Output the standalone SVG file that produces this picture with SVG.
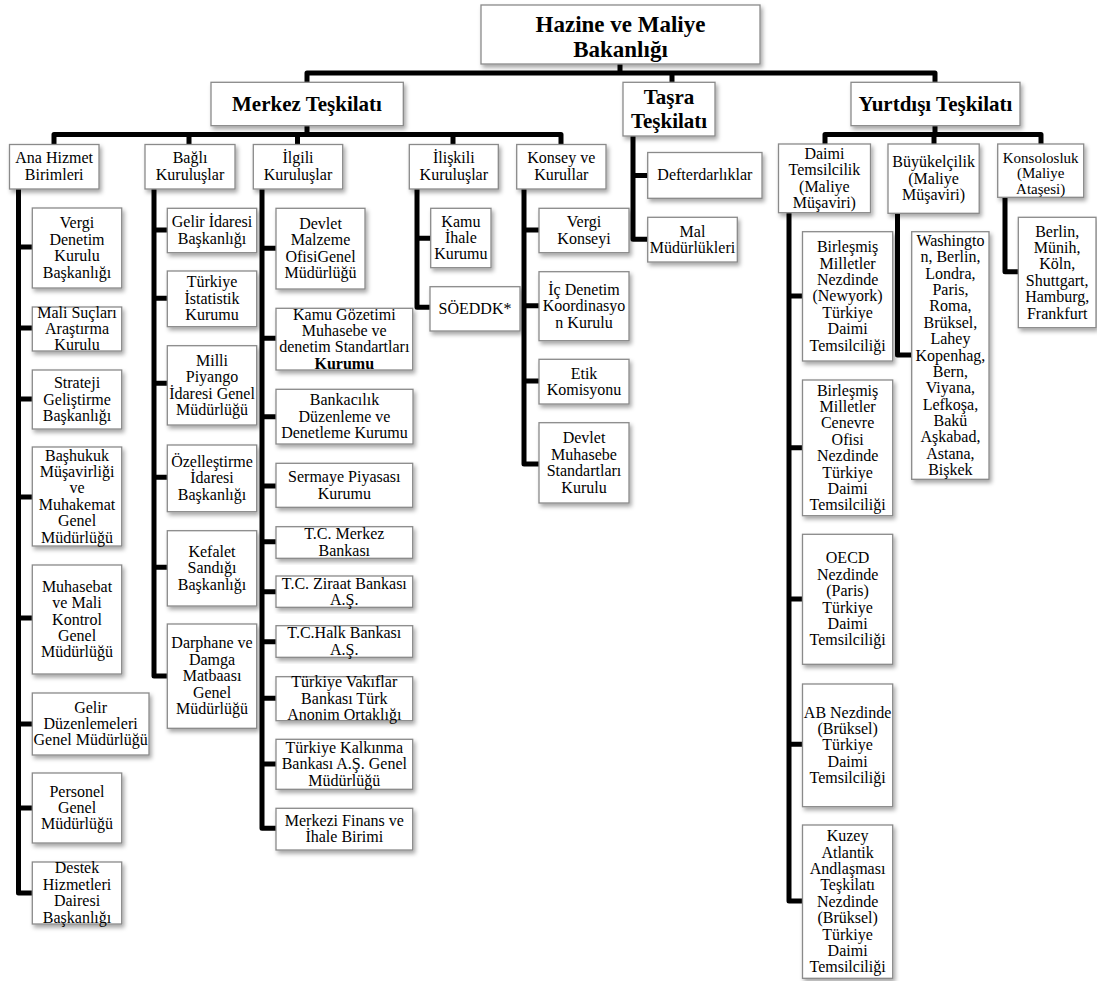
<svg xmlns="http://www.w3.org/2000/svg" width="1097" height="981" viewBox="0 0 1097 981">
<style>
.b{fill:#fff;stroke:#8a8a8a;stroke-width:1.3;filter:url(#sh)}
.t{font-family:"Liberation Serif","Times New Roman",serif;font-size:16px;fill:#000;text-anchor:middle}
.s{font-size:15px}
.h{font-family:"Liberation Serif","Times New Roman",serif;font-size:21px;font-weight:bold;fill:#000;text-anchor:middle}
.h0{font-family:"Liberation Serif","Times New Roman",serif;font-size:23px;font-weight:bold;fill:#000;text-anchor:middle}
.c{fill:none;stroke:#000;stroke-width:5;stroke-linejoin:round}
</style>
<defs>
<filter id="sh" x="-20%" y="-20%" width="140%" height="140%">
<feDropShadow dx="2" dy="3" stdDeviation="2" flood-color="#000" flood-opacity="0.35"/>
</filter>
</defs>
<rect width="1097" height="981" fill="#fff"/>
<g id="connectors" class="c">
<path d="M620,64V73M307,83V73H935V83M672,73V83"/>
<path d="M307,126V134.5M54,145V134.5H561V145M189,134.5V145M297.5,134.5V145M453,134.5V145"/>
<path d="M935,126V134.5M825,144V134.5H1041V144M934,134.5V144"/>
<path d="M18.5,189V893H33M18.5,247H33M18.5,328H33M18.5,399H33M18.5,497H33M18.5,618H33M18.5,724H33M18.5,808H33"/>
<path d="M154,189V676H168M154,230H168M154,298.3H168M154,383.3H168M154,477.3H168M154,567.3H168"/>
<path d="M262,189V828.3H276M262,248.3H276M262,338.3H276M262,416.7H276M262,486H276M262,541.7H276M262,591.7H276M262,641.7H276M262,698.3H276M262,764H276"/>
<path d="M417,189V307.3H431M417,238.3H431"/>
<path d="M524,189V464H539M524,230H539M524,305.7H539M524,381H539"/>
<path d="M633,136V239.3H648M633,175.4H648"/>
<path d="M789,213V901H803M789,296H803M789,447.7H803M789,599H803M789,744.3H803"/>
<path d="M897.5,213V355H912"/>
<path d="M1005,197V271.7H1019"/>
</g>
<g id="hazine"><rect class="b" x="481" y="5" width="279" height="59"/><text class="h0" x="620.5" y="32"><tspan x="620.5">Hazine ve Maliye</tspan><tspan x="620.5" dy="25">Bakanlığı</tspan></text></g>
<g id="merkez"><rect class="b" x="211" y="82.3" width="192.3" height="43.4"/><text class="h" x="307" y="111">Merkez Teşkilatı</text></g>
<g id="tasra"><rect class="b" x="623" y="82.3" width="92" height="53.7"/><text class="h" x="669" y="104"><tspan x="669">Taşra</tspan><tspan x="669" dy="24">Teşkilatı</tspan></text></g>
<g id="yurtdisi"><rect class="b" x="851" y="82.3" width="169" height="43.4"/><text class="h" x="935.4" y="111">Yurtdışı Teşkilatı</text></g>

<g id="ana"><rect class="b" x="9.5" y="144.5" width="89.5" height="44.5"/><text class="t" y="163.3"><tspan x="54.2">Ana Hizmet</tspan><tspan x="54.2" dy="16.7">Birimleri</tspan></text></g>
<g id="bagli"><rect class="b" x="145" y="144.5" width="90" height="44.5"/><text class="t" y="163.3"><tspan x="190">Bağlı</tspan><tspan x="190" dy="16.7">Kuruluşlar</tspan></text></g>
<g id="ilgili"><rect class="b" x="253.3" y="144.5" width="89.4" height="44.5"/><text class="t" y="163.3"><tspan x="298">İlgili</tspan><tspan x="298" dy="16.7">Kuruluşlar</tspan></text></g>
<g id="iliskili"><rect class="b" x="409.3" y="144.5" width="89" height="44.5"/><text class="t" y="163.3"><tspan x="453.8">İlişkili</tspan><tspan x="453.8" dy="16.7">Kuruluşlar</tspan></text></g>
<g id="konsey"><rect class="b" x="516.7" y="144.5" width="89.3" height="44.5"/><text class="t" y="163.3"><tspan x="561.3">Konsey ve</tspan><tspan x="561.3" dy="16.7">Kurullar</tspan></text></g>

<g id="daimi"><rect class="b" x="778.5" y="144" width="92" height="68.7"/><text class="t" y="158.8"><tspan x="824.4">Daimi</tspan><tspan x="824.4" dy="16.4">Temsilcilik</tspan><tspan x="824.4" dy="16.4">(Maliye</tspan><tspan x="824.4" dy="16.4">Müşaviri)</tspan></text></g>
<g id="buyukelcilik"><rect class="b" x="888" y="144" width="91.2" height="69.3"/><text class="t" y="167.2"><tspan x="933.6">Büyükelçilik</tspan><tspan x="933.6" dy="16.4">(Maliye</tspan><tspan x="933.6" dy="16.4">Müşaviri)</tspan></text></g>
<g id="konsolosluk"><rect class="b" x="997.7" y="144" width="86" height="53.3"/><text class="t s" y="162.5"><tspan x="1040.7">Konsolosluk</tspan><tspan x="1040.7" dy="15.5">(Maliye</tspan><tspan x="1040.7" dy="15.5">Ataşesi)</tspan></text></g>

<g id="vergi-denetim"><rect class="b" x="32.3" y="208" width="89.4" height="80"/><text class="t" y="228.4"><tspan x="77">Vergi</tspan><tspan x="77" dy="16.4">Denetim</tspan><tspan x="77" dy="16.4">Kurulu</tspan><tspan x="77" dy="16.4">Başkanlığı</tspan></text></g>
<g id="mali-suclari"><rect class="b" x="32.3" y="307" width="89.4" height="44"/><text class="t" y="317.6"><tspan x="77">Mali Suçları</tspan><tspan x="77" dy="16.4">Araştırma</tspan><tspan x="77" dy="16.4">Kurulu</tspan></text></g>
<g id="strateji"><rect class="b" x="32.3" y="370" width="89.4" height="59"/><text class="t" y="388.1"><tspan x="77">Strateji</tspan><tspan x="77" dy="16.4">Geliştirme</tspan><tspan x="77" dy="16.4">Başkanlığı</tspan></text></g>
<g id="bashukuk"><rect class="b" x="32.3" y="447" width="89.4" height="99"/><text class="t" y="460.5"><tspan x="77">Başhukuk</tspan><tspan x="77" dy="16.4">Müşavirliği</tspan><tspan x="77" dy="16.4">ve</tspan><tspan x="77" dy="16.4">Muhakemat</tspan><tspan x="77" dy="16.4">Genel</tspan><tspan x="77" dy="16.4">Müdürlüğü</tspan></text></g>
<g id="muhasebat"><rect class="b" x="32.3" y="565" width="89.4" height="109"/><text class="t" y="591.7"><tspan x="77">Muhasebat</tspan><tspan x="77" dy="16.4">ve Mali</tspan><tspan x="77" dy="16.4">Kontrol</tspan><tspan x="77" dy="16.4">Genel</tspan><tspan x="77" dy="16.4">Müdürlüğü</tspan></text></g>
<g id="gelir-duzenlemeleri"><rect class="b" x="32.3" y="693" width="116.7" height="62"/><text class="t" y="712.6"><tspan x="90.6">Gelir</tspan><tspan x="90.6" dy="16.4">Düzenlemeleri</tspan><tspan x="90.6" dy="16.4">Genel Müdürlüğü</tspan></text></g>
<g id="personel"><rect class="b" x="32.3" y="773" width="89.4" height="70"/><text class="t" y="796.6"><tspan x="77">Personel</tspan><tspan x="77" dy="16.4">Genel</tspan><tspan x="77" dy="16.4">Müdürlüğü</tspan></text></g>
<g id="destek"><rect class="b" x="32.3" y="862" width="89.4" height="62"/><text class="t" y="873.4"><tspan x="77">Destek</tspan><tspan x="77" dy="16.4">Hizmetleri</tspan><tspan x="77" dy="16.4">Dairesi</tspan><tspan x="77" dy="16.4">Başkanlığı</tspan></text></g>

<g id="gelir-idaresi"><rect class="b" x="167.3" y="208.3" width="89.4" height="44.4"/><text class="t" y="227.3"><tspan x="212">Gelir İdaresi</tspan><tspan x="212" dy="16.4">Başkanlığı</tspan></text></g>
<g id="tuik"><rect class="b" x="167.3" y="271" width="89.4" height="55.7"/><text class="t" y="287.4"><tspan x="212">Türkiye</tspan><tspan x="212" dy="16.4">İstatistik</tspan><tspan x="212" dy="16.4">Kurumu</tspan></text></g>
<g id="milli-piyango"><rect class="b" x="167.3" y="345.7" width="89.4" height="79.3"/><text class="t" y="365.7"><tspan x="212">Milli</tspan><tspan x="212" dy="16.4">Piyango</tspan><tspan x="212" dy="16.4">İdaresi Genel</tspan><tspan x="212" dy="16.4">Müdürlüğü</tspan></text></g>
<g id="ozellestirme"><rect class="b" x="167.3" y="445" width="89.4" height="66.7"/><text class="t" y="466.9"><tspan x="212">Özelleştirme</tspan><tspan x="212" dy="16.4">İdaresi</tspan><tspan x="212" dy="16.4">Başkanlığı</tspan></text></g>
<g id="kefalet"><rect class="b" x="167.3" y="530.7" width="89.4" height="75.3"/><text class="t" y="556.9"><tspan x="212">Kefalet</tspan><tspan x="212" dy="16.4">Sandığı</tspan><tspan x="212" dy="16.4">Başkanlığı</tspan></text></g>
<g id="darphane"><rect class="b" x="167.3" y="624" width="89.4" height="104.3"/><text class="t" y="648.4"><tspan x="212">Darphane ve</tspan><tspan x="212" dy="16.4">Damga</tspan><tspan x="212" dy="16.4">Matbaası</tspan><tspan x="212" dy="16.4">Genel</tspan><tspan x="212" dy="16.4">Müdürlüğü</tspan></text></g>

<g id="dmo"><rect class="b" x="276" y="208.3" width="89" height="80.7"/><text class="t" y="229"><tspan x="320.5">Devlet</tspan><tspan x="320.5" dy="16.4">Malzeme</tspan><tspan x="320.5" dy="16.4">OfisiGenel</tspan><tspan x="320.5" dy="16.4">Müdürlüğü</tspan></text></g>
<g id="kgk"><rect class="b" x="276" y="308.3" width="136.7" height="61.7"/><text class="t" y="319.6"><tspan x="344.3">Kamu Gözetimi</tspan><tspan x="344.3" dy="16.4">Muhasebe ve</tspan><tspan x="344.3" dy="16.4">denetim Standartları</tspan><tspan x="344.3" dy="16.4" font-weight="bold">Kurumu</tspan></text></g>
<g id="bddk"><rect class="b" x="276" y="389.3" width="137" height="54.7"/><text class="t" y="405.2"><tspan x="344.5">Bankacılık</tspan><tspan x="344.5" dy="16.4">Düzenleme ve</tspan><tspan x="344.5" dy="16.4">Denetleme Kurumu</tspan></text></g>
<g id="spk"><rect class="b" x="276" y="463.3" width="136.7" height="44"/><text class="t" y="482.1"><tspan x="344.3">Sermaye Piyasası</tspan><tspan x="344.3" dy="16.4">Kurumu</tspan></text></g>
<g id="tcmb"><rect class="b" x="276" y="526.7" width="136.7" height="31.6"/><text class="t" y="539.3"><tspan x="344.3">T.C. Merkez</tspan><tspan x="344.3" dy="16.4">Bankası</tspan></text></g>
<g id="ziraat"><rect class="b" x="276" y="576" width="136.7" height="31.3"/><text class="t" y="588.5"><tspan x="344.3">T.C. Ziraat Bankası</tspan><tspan x="344.3" dy="16.4">A.Ş.</tspan></text></g>
<g id="halk"><rect class="b" x="276" y="625.7" width="136.7" height="31.6"/><text class="t" y="638.3"><tspan x="344.3">T.C.Halk Bankası</tspan><tspan x="344.3" dy="16.4">A.Ş.</tspan></text></g>
<g id="vakiflar"><rect class="b" x="276" y="676.7" width="136.7" height="44"/><text class="t" y="687.3"><tspan x="344.3">Türkiye Vakıflar</tspan><tspan x="344.3" dy="16.4">Bankası Türk</tspan><tspan x="344.3" dy="16.4">Anonim Ortaklığı</tspan></text></g>
<g id="kalkinma"><rect class="b" x="276" y="739.3" width="136.7" height="50"/><text class="t" y="752.9"><tspan x="344.3">Türkiye Kalkınma</tspan><tspan x="344.3" dy="16.4">Bankası A.Ş. Genel</tspan><tspan x="344.3" dy="16.4">Müdürlüğü</tspan></text></g>
<g id="mfib"><rect class="b" x="276" y="808.3" width="136.7" height="41.7"/><text class="t" y="826"><tspan x="344.3">Merkezi Finans ve</tspan><tspan x="344.3" dy="16.4">İhale Birimi</tspan></text></g>

<g id="kik"><rect class="b" x="430.7" y="208.3" width="60.3" height="59.4"/><text class="t" y="226.6"><tspan x="460.9">Kamu</tspan><tspan x="460.9" dy="16.4">İhale</tspan><tspan x="460.9" dy="16.4">Kurumu</tspan></text></g>
<g id="soeddk"><rect class="b" x="430" y="286.7" width="90" height="44.3"/><text class="t" x="475" y="313.9">SÖEDDK*</text></g>

<g id="vergi-konseyi"><rect class="b" x="539" y="208.3" width="90" height="44.4"/><text class="t" y="227.3"><tspan x="584">Vergi</tspan><tspan x="584" dy="16.4">Konseyi</tspan></text></g>
<g id="ic-denetim"><rect class="b" x="539" y="271.7" width="90" height="69"/><text class="t" y="294.8"><tspan x="584">İç Denetim</tspan><tspan x="584" dy="16.4">Koordinasyo</tspan><tspan x="584" dy="16.4">n Kurulu</tspan></text></g>
<g id="etik"><rect class="b" x="539" y="359.3" width="90" height="44.7"/><text class="t" y="378.5"><tspan x="584">Etik</tspan><tspan x="584" dy="16.4">Komisyonu</tspan></text></g>
<g id="dmsk"><rect class="b" x="539" y="422.7" width="90" height="80.3"/><text class="t" y="443.3"><tspan x="584">Devlet</tspan><tspan x="584" dy="16.4">Muhasebe</tspan><tspan x="584" dy="16.4">Standartları</tspan><tspan x="584" dy="16.4">Kurulu</tspan></text></g>

<g id="defterdarliklar"><rect class="b" x="647.7" y="152.5" width="114.3" height="45.8"/><text class="t" x="704.9" y="180.4">Defterdarlıklar</text></g>
<g id="mal-mudurlukleri"><rect class="b" x="647.7" y="217.3" width="89.6" height="44.7"/><text class="t" y="236.5"><tspan x="692.5">Mal</tspan><tspan x="692.5" dy="16.4">Müdürlükleri</tspan></text></g>

<g id="bm-newyork"><rect class="b" x="802.5" y="231.7" width="90.2" height="129.3"/><text class="t" y="252.2"><tspan x="847.6">Birleşmiş</tspan><tspan x="847.6" dy="16.4">Milletler</tspan><tspan x="847.6" dy="16.4">Nezdinde</tspan><tspan x="847.6" dy="16.4">(Newyork)</tspan><tspan x="847.6" dy="16.4">Türkiye</tspan><tspan x="847.6" dy="16.4">Daimi</tspan><tspan x="847.6" dy="16.4">Temsilciliği</tspan></text></g>
<g id="bm-cenevre"><rect class="b" x="802.5" y="380" width="90.2" height="135.7"/><text class="t" y="395.5"><tspan x="847.6">Birleşmiş</tspan><tspan x="847.6" dy="16.4">Milletler</tspan><tspan x="847.6" dy="16.4">Cenevre</tspan><tspan x="847.6" dy="16.4">Ofisi</tspan><tspan x="847.6" dy="16.4">Nezdinde</tspan><tspan x="847.6" dy="16.4">Türkiye</tspan><tspan x="847.6" dy="16.4">Daimi</tspan><tspan x="847.6" dy="16.4">Temsilciliği</tspan></text></g>
<g id="oecd"><rect class="b" x="802.5" y="534.3" width="90.2" height="130"/><text class="t" y="563.3"><tspan x="847.6">OECD</tspan><tspan x="847.6" dy="16.4">Nezdinde</tspan><tspan x="847.6" dy="16.4">(Paris)</tspan><tspan x="847.6" dy="16.4">Türkiye</tspan><tspan x="847.6" dy="16.4">Daimi</tspan><tspan x="847.6" dy="16.4">Temsilciliği</tspan></text></g>
<g id="ab"><rect class="b" x="802.5" y="684" width="90.2" height="122.7"/><text class="t" y="717.6"><tspan x="847.6">AB Nezdinde</tspan><tspan x="847.6" dy="16.4">(Brüksel)</tspan><tspan x="847.6" dy="16.4">Türkiye</tspan><tspan x="847.6" dy="16.4">Daimi</tspan><tspan x="847.6" dy="16.4">Temsilciliği</tspan></text></g>
<g id="nato"><rect class="b" x="802.5" y="825" width="90.2" height="153.3"/><text class="t" y="841.1"><tspan x="847.6">Kuzey</tspan><tspan x="847.6" dy="16.4">Atlantik</tspan><tspan x="847.6" dy="16.4">Andlaşması</tspan><tspan x="847.6" dy="16.4">Teşkilatı</tspan><tspan x="847.6" dy="16.4">Nezdinde</tspan><tspan x="847.6" dy="16.4">(Brüksel)</tspan><tspan x="847.6" dy="16.4">Türkiye</tspan><tspan x="847.6" dy="16.4">Daimi</tspan><tspan x="847.6" dy="16.4">Temsilciliği</tspan></text></g>

<g id="buyukelcilik-sehirler"><rect class="b" x="911.7" y="231.7" width="77.3" height="247.6"/><text class="t" y="245.7"><tspan x="950.4">Washingto</tspan><tspan x="950.4" dy="16.4">n, Berlin,</tspan><tspan x="950.4" dy="16.4">Londra,</tspan><tspan x="950.4" dy="16.4">Paris,</tspan><tspan x="950.4" dy="16.4">Roma,</tspan><tspan x="950.4" dy="16.4">Brüksel,</tspan><tspan x="950.4" dy="16.4">Lahey</tspan><tspan x="950.4" dy="16.4">Kopenhag,</tspan><tspan x="950.4" dy="16.4">Bern,</tspan><tspan x="950.4" dy="16.4">Viyana,</tspan><tspan x="950.4" dy="16.4">Lefkoşa,</tspan><tspan x="950.4" dy="16.4">Bakü</tspan><tspan x="950.4" dy="16.4">Aşkabad,</tspan><tspan x="950.4" dy="16.4">Astana,</tspan><tspan x="950.4" dy="16.4">Bişkek</tspan></text></g>
<g id="konsolosluk-sehirler"><rect class="b" x="1018.3" y="217.3" width="77.7" height="110.4"/><text class="t" y="236.5"><tspan x="1057.2">Berlin,</tspan><tspan x="1057.2" dy="16.4">Münih,</tspan><tspan x="1057.2" dy="16.4">Köln,</tspan><tspan x="1057.2" dy="16.4">Shuttgart,</tspan><tspan x="1057.2" dy="16.4">Hamburg,</tspan><tspan x="1057.2" dy="16.4">Frankfurt</tspan></text></g>
</svg>
